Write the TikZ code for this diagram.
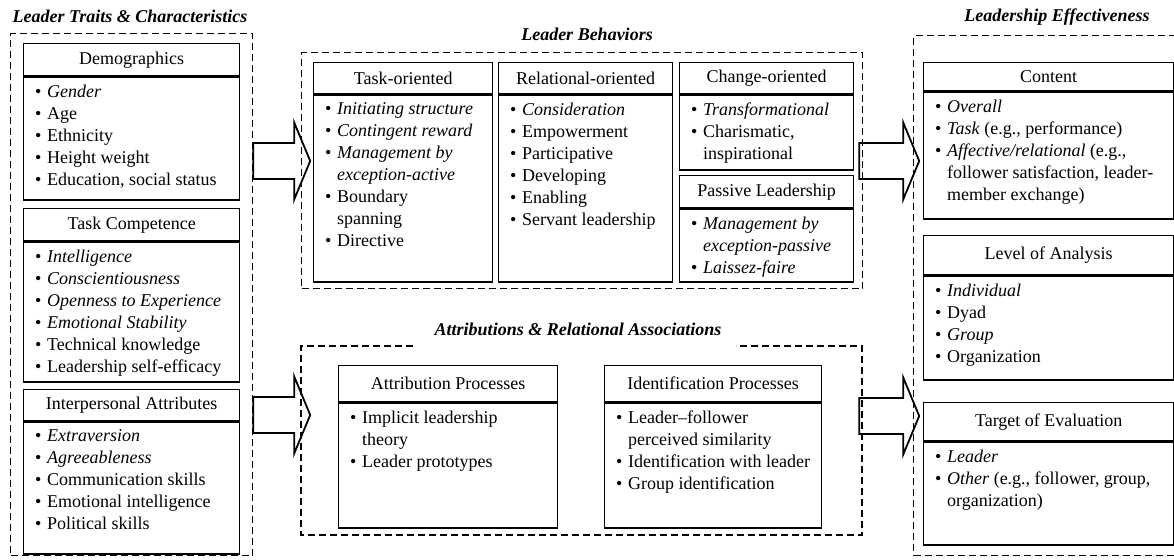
\documentclass[tikz,border=0pt]{standalone}
\usepackage{fontspec}
\setmainfont{Liberation Serif}
\usepackage{tikz}
\usetikzlibrary{positioning, calc}

\newcommand{\itm}{\makebox[12pt][l]{\textbullet}}
\newcommand{\cnt}{\hspace*{12pt}}
% name, x, y, width, header height, body height, title, items
\newcommand{\panel}[8]{%
  \node[hdr, minimum width=#4, minimum height=#5, anchor=north west] (#1) at (#2,#3) {#7};
  \node[bdy, minimum width=#4, minimum height=#6, anchor=north west] (#1b) at (#1.south west) {};
  \node[items] (#1i) at ([shift={(12,8)}]#1b.north west) {#8};}
\newcommand{\bigarrow}[2]{%
  \draw[barrow] (#1) ++(0,-18) -- ++(#2,0) -- ++(0,-20.5) -- ++(16,38.5)
    -- ++(-16,38.5) -- ++(0,-20.5) -- ++(-#2,0) -- cycle;}

\begin{document}
\begin{tikzpicture}[x=1pt, y=-1pt,
    font=\fontsize{18}{22}\selectfont,
    grp/.style={draw, dash pattern=on 7pt off 4pt, line width=1.2pt},
    hdr/.style={draw, line width=1.4pt, inner sep=0pt},
    bdy/.style={draw, line width=1.4pt, inner sep=0pt},
    items/.style={anchor=north west, align=left, inner sep=0pt},
    gtitle/.style={font=\fontsize{18}{22}\selectfont\bfseries\itshape},
    barrow/.style={draw, line width=1.8pt, line join=miter}]
    \useasboundingbox (0,0) rectangle (1174,559);

    % Gruppi tratteggiati
    \node[grp, minimum width=242, minimum height=522, anchor=north west] (traits) at (10,33) {};
    \node[grp, minimum width=561, minimum height=236, anchor=north west] (behav) at (301,52) {};
    \node[grp, minimum width=300, minimum height=520, anchor=north west] (effect) at (913,35) {};
    \coordinate (attrL) at (413,346);
    \coordinate (attrR) at (736,346);
    \draw[grp] (attrL) -| (301,535) -| (862,346) -- (attrR);

    % Titoli
    \node[gtitle] (traitsT) at (130,16) {Leader Traits \& Characteristics};
    \node[gtitle] (behavT) at (587,34) {Leader Behaviors};
    \node[gtitle] (attrT) at (578,329) {Attributions \& Relational Associations};
    \node[gtitle] (effectT) at (1057,17) {Leadership Effectiveness};

    % Tratti del leader
    \panel{demo}{23}{43}{216}{32}{123}{Demographics}{\itm\textit{Gender}\\\itm Age\\\itm Ethnicity\\\itm Height weight\\\itm Education, social status}
    \panel{comp}{23}{208}{216}{32}{140}{Task Competence}{\itm\textit{Intelligence}\\\itm\textit{Conscientiousness}\\\itm\textit{Openness to Experience}\\\itm\textit{Emotional Stability}\\\itm Technical knowledge\\\itm Leadership self-efficacy}
    \panel{inter}{23}{389}{216}{31}{132}{Interpersonal Attributes}{\itm\textit{Extraversion}\\\itm\textit{Agreeableness}\\\itm Communication skills\\\itm Emotional intelligence\\\itm Political skills}

    % Comportamenti
    \panel{taskor}{313}{62}{179}{31}{187}{Task-oriented}{\itm\textit{Initiating structure}\\\itm\textit{Contingent reward}\\\itm\textit{Management by}\\\cnt\textit{exception-active}\\\itm Boundary\\\cnt spanning\\\itm Directive}
    \panel{relor}{498}{62}{174}{31}{187}{Relational-oriented}{\itm\textit{Consideration}\\\itm Empowerment\\\itm Participative\\\itm Developing\\\itm Enabling\\\itm Servant leadership}
    \panel{chgor}{679}{62}{174}{31}{75}{Change-oriented}{\itm\textit{Transformational}\\\itm Charismatic,\\\cnt inspirational}
    \panel{passive}{679}{175}{174}{32}{73}{Passive Leadership}{\itm\textit{Management by}\\\cnt\textit{exception-passive}\\\itm\textit{Laissez-faire}}

    % Attribuzioni
    \panel{attr}{338}{365}{219}{36}{125}{Attribution Processes}{\itm Implicit leadership\\\cnt theory\\\itm Leader prototypes}
    \panel{ident}{604}{365}{217}{36}{125}{Identification Processes}{\itm Leader--follower\\\cnt perceived similarity\\\itm Identification with leader\\\itm Group identification}

    % Efficacia
    \panel{cont}{923}{62}{250}{28}{127}{Content}{\itm\textit{Overall}\\\itm\textit{Task} (e.g., performance)\\\itm\textit{Affective/relational} (e.g.,\\\cnt follower satisfaction, leader-\\\cnt member exchange)}
    \panel{level}{923}{235}{250}{39}{104}{Level of Analysis}{\itm\textit{Individual}\\\itm Dyad\\\itm\textit{Group}\\\itm Organization}
    \panel{target}{923}{402}{250}{38}{103}{Target of Evaluation}{\itm\textit{Leader}\\\itm\textit{Other} (e.g., follower, group,\\\cnt organization)}

    % Frecce
    \coordinate (a1) at (traits.east |- 0,161);
    \coordinate (a2) at (traits.east |- 0,415);
    \coordinate (a3) at ($(behav.east |- 0,161)+(-4,0)$);
    \coordinate (a4) at ($(behav.east |- 0,416)+(-4,0)$);
    \bigarrow{a1}{41}
    \bigarrow{a2}{41}
    \bigarrow{a3}{44}
    \bigarrow{a4}{44}
\end{tikzpicture}
\end{document}
